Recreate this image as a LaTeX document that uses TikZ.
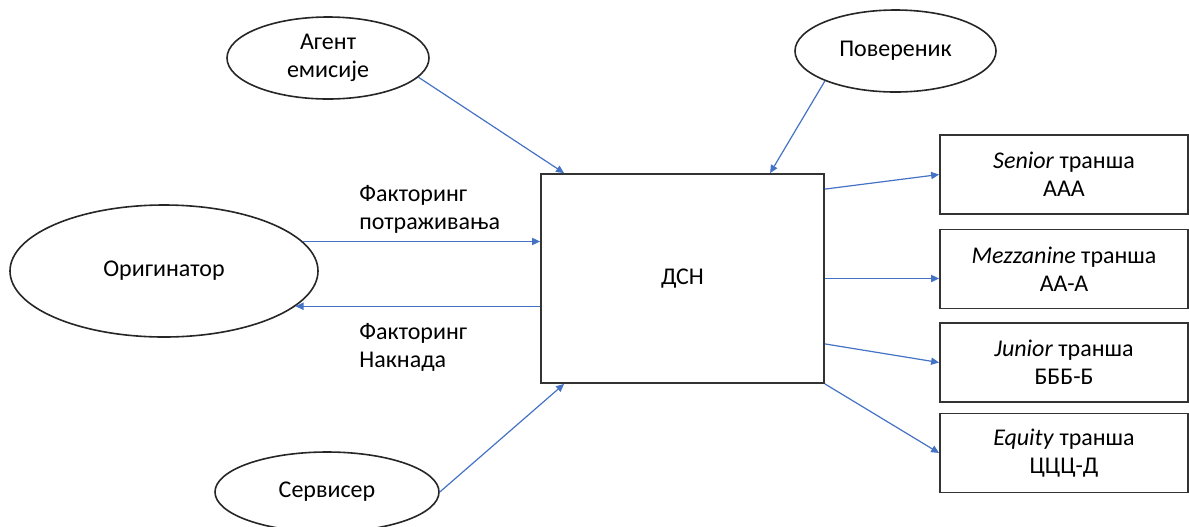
\documentclass[tikz,border=0pt]{standalone}
\usepackage{fontspec}
\setmainfont{Carlito}
\usetikzlibrary{arrows.meta,calc,shapes.geometric}
\definecolor{flowblue}{HTML}{4472C4}
\tikzset{
    sec diagram/.style = {x=0.5pt, y=-0.5pt,
                          font=\fontsize{12}{14}\selectfont},
    flow/.style        = {draw=flowblue, line width=0.6pt,
                          -{Triangle[length=4pt, width=3.6pt]}},
    party/.style       = {draw=black!85, line width=0.8pt, ellipse,
                          inner sep=0pt, align=center},
    block/.style       = {draw=black!80, line width=0.9pt, fill=white,
                          inner sep=0pt, align=center},
    tranche/.style     = {block, minimum width=124pt, minimum height=39.5pt},
    sig/.style         = {align=left, inner sep=0pt, anchor=west}
}

\begin{document}
\begin{tikzpicture}[sec diagram]
\useasboundingbox (0,0) rectangle (1189,526);

% Parties around the special purpose vehicle.
\node[party, minimum width=101pt, minimum height=41pt]
    (agent) at (328,58) {Агент\\емисије};
\node[party, minimum width=100.5pt, minimum height=41pt]
    (trustee) at (895.5,51) {Повереник};
\node[party, minimum width=154pt, minimum height=66pt]
    (orig) at (164,271) {Оригинатор};
\node[party, minimum width=112pt, minimum height=40pt]
    (servicer) at (327,492) {Сервисер};
\node[block, minimum width=141.5pt, minimum height=104.5pt]
    (dsn) at (682.5,278.5) {ДСН};

% Tranches issued by the vehicle.
\node[tranche] (senior) at (1064,174.5) {\textit{Senior} транша\\ААА};
\node[tranche] (mezz)   at (1064,269)   {\textit{Mezzanine} транша\\АА-А};
\node[tranche] (junior) at (1064,362.5) {\textit{Junior} транша\\БББ-Б};
\node[tranche] (equity) at (1064,453)   {\textit{Equity} транша\\ЦЦЦ-Д};

% Factoring flows between originator and vehicle.
\node[sig] (claims) at (359,209) {Факторинг\\потраживања};
\node[sig] (fee)    at (359,347) {Факторинг\\Накнада};
\draw[flow] (orig.12) -- (orig.12 -| dsn.west);
\draw[flow] (dsn.west |- orig.-15) -- (orig.-15);

\draw[flow] (agent.-12) -- ($(dsn.north west)+(24,0)$);
\draw[flow] (trustee.-157) -- ($(dsn.north west)+(230,0)$);
\draw[flow] (servicer.east) -- ($(dsn.south west)+(24,0)$);

\draw[flow] ($(dsn.north east)+(0,16)$) -- (senior.west);
\draw[flow] (dsn.east) -- (dsn.east -| mezz.west);
\draw[flow] ($(dsn.south east)+(0,-40)$) -- (junior.west);
\draw[flow] (dsn.south east) -- (equity.west);

\end{tikzpicture}
\end{document}
